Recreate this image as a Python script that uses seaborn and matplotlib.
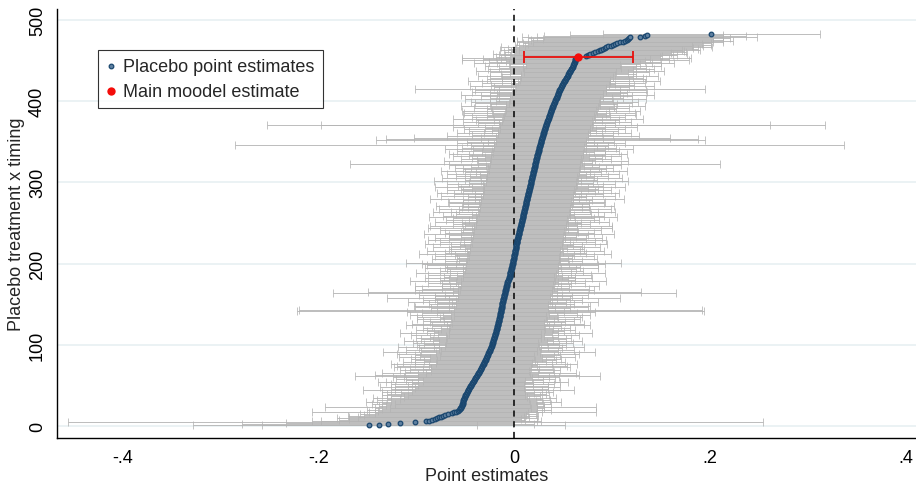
import numpy as np
import seaborn as sns
import matplotlib.pyplot as plt

# ------------------------------------------------------------
# Data
# ------------------------------------------------------------
# sorted placebo point estimates, rank 1 .. 482
estimates = [
    -.148, -.138, -.129, -.117, -.101, -.090, -.087, -.084, -.081, -.079,
    -.077, -.075, -.073, -.071, -.068, -.064, -.062, -.060, -.058, -.057,
    -.056, -.056, -.055, -.055, -.054, -.054, -.054, -.053, -.053, -.052,
    -.052, -.052, -.051, -.051, -.051, -.050, -.050, -.050, -.049, -.049,
    -.048, -.048, -.047, -.047, -.047, -.046, -.046, -.045, -.045, -.044,
    -.044, -.043, -.043, -.042, -.042, -.041, -.041, -.040, -.040, -.039,
    -.039, -.038, -.038, -.037, -.037, -.036, -.036, -.035, -.035, -.034,
    -.034, -.034, -.033, -.033, -.032, -.032, -.031, -.031, -.031, -.030,
    -.030, -.029, -.029, -.029, -.028, -.028, -.028, -.027, -.027, -.027,
    -.026, -.026, -.025, -.025, -.025, -.024, -.024, -.024, -.023, -.023,
    -.023, -.023, -.022, -.022, -.022, -.022, -.021, -.021, -.021, -.021,
    -.020, -.020, -.020, -.020, -.019, -.019, -.019, -.019, -.018, -.018,
    -.018, -.018, -.018, -.017, -.017, -.017, -.017, -.017, -.016, -.016,
    -.016, -.016, -.016, -.015, -.015, -.015, -.015, -.015, -.015, -.014,
    -.014, -.014, -.014, -.014, -.014, -.013, -.013, -.013, -.013, -.013,
    -.013, -.013, -.012, -.012, -.012, -.012, -.012, -.011, -.011, -.011,
    -.011, -.011, -.010, -.010, -.010, -.010, -.010, -.009, -.009, -.009,
    -.009, -.009, -.008, -.008, -.008, -.008, -.008, -.007, -.007, -.007,
    -.006, -.006, -.006, -.005, -.005, -.005, -.005, -.004, -.004, -.004,
    -.003, -.003, -.003, -.003, -.002, -.002, -.002, -.002, -.002, -.001,
    -.001, -.001, -.001, -.001, -.001, .000, .000, .000, .000, .000,
    .000, .001, .001, .001, .001, .001, .001, .002, .002, .002,
    .002, .002, .002, .002, .003, .003, .003, .003, .003, .003,
    .004, .004, .004, .004, .004, .005, .005, .005, .005, .005,
    .006, .006, .006, .006, .006, .007, .007, .007, .007, .007,
    .008, .008, .008, .008, .008, .009, .009, .009, .009, .009,
    .009, .010, .010, .010, .010, .010, .011, .011, .011, .011,
    .011, .012, .012, .012, .012, .012, .012, .013, .013, .013,
    .013, .013, .014, .014, .014, .014, .014, .015, .015, .015,
    .015, .015, .016, .016, .016, .016, .016, .017, .017, .017,
    .017, .017, .017, .018, .018, .018, .018, .018, .019, .019,
    .019, .019, .019, .020, .020, .020, .020, .020, .021, .021,
    .021, .021, .021, .021, .022, .022, .022, .022, .022, .023,
    .023, .023, .023, .023, .024, .024, .024, .024, .025, .025,
    .025, .025, .025, .026, .026, .026, .026, .027, .027, .027,
    .027, .027, .028, .028, .028, .028, .029, .029, .029, .029,
    .030, .030, .030, .030, .031, .031, .031, .031, .032, .032,
    .032, .032, .033, .033, .033, .034, .034, .034, .035, .035,
    .035, .035, .036, .036, .036, .037, .037, .037, .037, .038,
    .038, .038, .039, .039, .039, .040, .040, .040, .041, .041,
    .041, .042, .042, .043, .043, .043, .044, .044, .045, .045,
    .046, .046, .046, .047, .047, .048, .048, .049, .049, .049,
    .050, .050, .051, .051, .052, .052, .053, .053, .054, .054,
    .055, .055, .055, .056, .056, .057, .057, .058, .058, .059,
    .059, .060, .060, .060, .061, .061, .061, .062, .062, .062,
    .062, .063, .063, .065, .073, .075, .076, .077, .080, .082,
    .085, .087, .088, .090, .092, .094, .096, .099, .101, .103,
    .105, .108, .111, .113, .115, .116, .117, .118, .128, .133,
    .135, .201,
]

# half-width of each 95% interval (same order)
half_widths = [
    .110, .190, .149, .116, .355, .117, .110, .095, .088, .102,
    .092, .085, .097, .083, .090, .078, .145, .088, .081, .094,
    .079, .086, .072, .138, .084, .077, .091, .069, .082, .100,
    .074, .088, .066, .079, .093, .063, .076, .085, .060, .081,
    .068, .087, .058, .108, .075, .080, .056, .092, .064, .078,
    .054, .083, .062, .097, .089, .052, .070, .081, .058, .074,
    .085, .125, .104, .061, .053, .099, .076, .050, .082, .059,
    .073, .051, .090, .087, .055, .070, .095, .049, .083, .062,
    .072, .050, .077, .057, .090, .068, .048, .074, .093, .053,
    .108, .049, .070, .086, .052, .073, .095, .058, .048, .076,
    .069, .047, .082, .055, .091, .061, .074, .048, .079, .065,
    .050, .086, .058, .047, .098, .063, .070, .081, .049, .057,
    .075, .048, .066, .094, .052, .088, .047, .069, .056, .077,
    .049, .083, .060, .084, .047, .058, .092, .050, .079, .065,
    .096, .208, .206, .048, .071, .054, .088, .090, .047, .074,
    .051, .066, .097, .048, .081, .055, .069, .119, .047, .070,
    .060, .086, .048, .175, .139, .053, .091, .047, .085, .065,
    .049, .057, .094, .047, .066, .080, .052, .100, .048, .069,
    .061, .085, .046, .067, .054, .083, .047, .096, .062, .048,
    .073, .047, .066, .088, .050, .069, .047, .087, .058, .093,
    .110, .048, .070, .056, .047, .084, .059, .046, .081, .061,
    .047, .098, .072, .049, .066, .090, .046, .069, .052, .085,
    .047, .067, .058, .093, .046, .079, .054, .047, .091, .070,
    .048, .085, .059, .046, .071, .097, .047, .076, .060, .046,
    .082, .049, .058, .094, .047, .093, .057, .046, .070, .061,
    .089, .047, .078, .054, .046, .072, .096, .048, .082, .052,
    .069, .046, .093, .075, .047, .067, .088, .046, .065, .058,
    .091, .047, .064, .048, .079, .080, .046, .066, .099, .053,
    .047, .060, .089, .046, .076, .054, .093, .047, .067, .084,
    .046, .070, .059, .097, .047, .074, .048, .086, .063, .046,
    .099, .051, .067, .047, .092, .063, .046, .078, .054, .088,
    .047, .069, .058, .095, .046, .073, .047, .081, .065, .050,
    .088, .046, .189, .058, .047, .094, .060, .077, .046, .066,
    .053, .086, .047, .069, .091, .046, .057, .083, .048, .067,
    .096, .079, .046, .058, .070, .311, .047, .086, .054, .075,
    .046, .168, .159, .062, .131, .047, .098, .072, .046, .060,
    .089, .047, .076, .053, .046, .082, .061, .094, .047, .285,
    .229, .048, .070, .086, .046, .073, .055, .097, .047, .078,
    .063, .046, .088, .058, .087, .047, .060, .091, .046, .066,
    .079, .047, .063, .094, .048, .065, .080, .046, .085, .060,
    .046, .092, .058, .068, .047, .077, .099, .046, .063, .070,
    .089, .047, .062, .087, .148, .046, .069, .094, .048, .073,
    .053, .083, .047, .098, .065, .046, .081, .078, .047, .067,
    .092, .048, .069, .060, .081, .047, .096, .063, .085, .050,
    .075, .064, .090, .048, .067, .079, .102, .088, .071, .116,
    .076, .095, .117, .084, .078, .091, .086, .099, .080, .093,
    .088, .102, .083, .097, .090, .108, .085, .094, .100, .089,
    .096, .105, .092, .110, .098, .087, .103, .095, .120, .103,
    .078, .111,
]

# main model estimate and its interval
main_est = 0.0653
main_rank = 454
main_lo = 0.0102
main_hi = 0.121

x_ticks = [-0.4, -0.2, 0.0, 0.2, 0.4]
x_ticklabels = ["-.4", "-.2", "0", ".2", ".4"]
y_ticks = [0, 100, 200, 300, 400, 500]

# ------------------------------------------------------------
# Style
# ------------------------------------------------------------
sns.set_style("white")
plt.rcParams["font.family"] = ["Liberation Sans", "DejaVu Sans"]
plt.rcParams["font.size"] = 13

navy = "#1a476f"

fig = plt.figure(figsize=(9.16, 4.85), dpi=100)
ax = fig.add_axes([57 / 916, 46 / 485, 859 / 916, 429 / 485])

est = np.array(estimates)
hw = np.array(half_widths)
rank = np.arange(1, len(est) + 1)

# placebo confidence intervals
_, caps, bars = ax.errorbar(est, rank, xerr=hw, fmt="none",
                            ecolor="#b4b4b4", elinewidth=0.62,
                            capsize=3, capthick=0.55, zorder=2)
for c in caps:
    c.set_color("#9e9e9e")

# zero line
ax.axvline(0, color="black", linestyle=(0, (4, 3)), linewidth=1.1, zorder=3)

# placebo point estimates
sns.scatterplot(x=est, y=rank, ax=ax, s=11, marker="o",
                color="#5f80a0", edgecolor=navy, linewidth=0.9,
                zorder=4, label="Placebo point estimates")

# main model estimate + CI
ax.errorbar([main_est], [main_rank],
            xerr=[[main_est - main_lo], [main_hi - main_est]],
            fmt="none", ecolor="#e8100c", elinewidth=1.3,
            capsize=4.5, capthick=1.3, zorder=5)
sns.scatterplot(x=[main_est], y=[main_rank], ax=ax, s=36, marker="o",
                color="#f40d0a", edgecolor="#f40d0a", linewidth=0,
                zorder=6, label="Main moodel estimate")

# ------------------------------------------------------------
# Axes
# ------------------------------------------------------------
ax.set_xlim(-0.467, 0.410)
ax.set_ylim(-14.4, 513)
ax.set_xticks(x_ticks)
ax.set_xticklabels(x_ticklabels)
ax.set_yticks(y_ticks)
ax.set_yticklabels([str(v) for v in y_ticks], rotation=90, va="center")

ax.grid(axis="y", color="#e6eff1", linewidth=1.1, zorder=0)
ax.grid(axis="x", visible=False)
ax.set_axisbelow(True)

for side in ["top", "right"]:
    ax.spines[side].set_visible(False)
for side in ["left", "bottom"]:
    ax.spines[side].set_color("black")
    ax.spines[side].set_linewidth(1.0)

ax.tick_params(axis="both", direction="out", length=5, width=0.8,
               color="black", labelsize=13, labelcolor="black")
ax.tick_params(axis="x", pad=3)
ax.tick_params(axis="y", pad=3)

ax.set_xlabel("Point estimates", fontsize=13, labelpad=1)
ax.set_ylabel("Placebo treatment x timing", fontsize=13, labelpad=3)

leg = ax.legend(loc="upper left", bbox_to_anchor=(41 / 859, 1 - 41 / 429),
                borderaxespad=0, frameon=True, fancybox=False,
                edgecolor="black", fontsize=13, handlelength=0.5,
                handletextpad=0.45, borderpad=0.45, labelspacing=0.42,
                markerscale=1.0)
leg.get_frame().set_linewidth(0.8)

fig.savefig("out.png", dpi=100)
